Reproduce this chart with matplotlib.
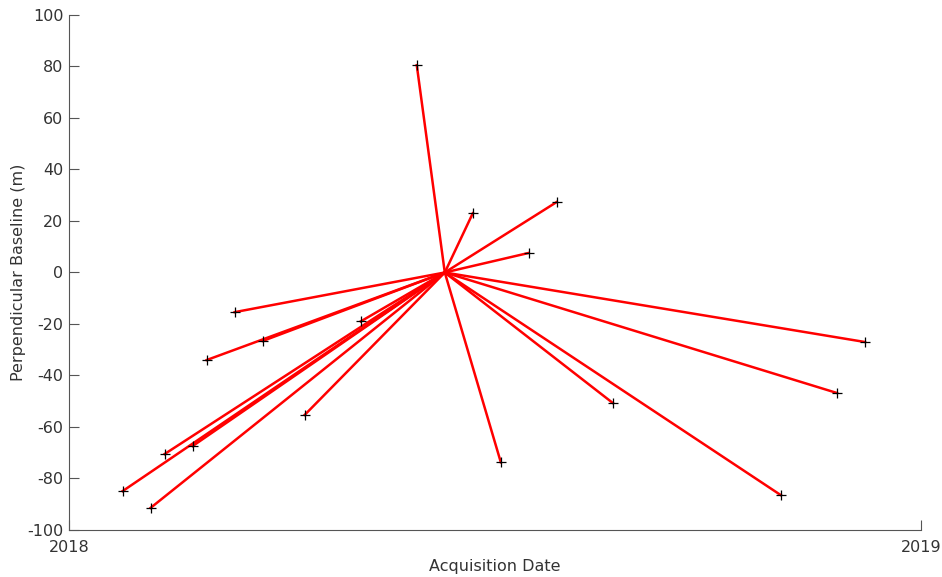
import numpy as np
import matplotlib
matplotlib.use('Agg')
import matplotlib.pyplot as plt
import matplotlib.dates as mdates

plt.rcParams['axes.unicode_minus'] = False

# master (reference) acquisition and secondary acquisitions
master_date = np.datetime64('2018-06-11')
master_bperp = 0.0

slave_dates = np.array([
    '2018-05-30', '2018-06-23', '2018-07-29', '2018-07-17', '2018-03-13',
    '2018-03-25', '2018-03-01', '2018-05-06', '2018-04-12', '2018-02-11',
    '2018-02-23', '2018-01-24', '2018-02-05', '2018-07-05', '2018-08-22',
    '2018-11-02', '2018-11-26', '2018-12-08'], dtype='datetime64[D]')
slave_bperp = [80.5, 23.0, 27.4, 7.6, -15.4, -26.6, -34.0, -19.0, -55.3, -70.5,
               -67.4, -84.9, -91.4, -73.7, -50.7, -86.5, -46.8, -27.0]

fig = plt.figure(figsize=(9.42, 5.77), dpi=100)
ax = fig.add_axes([0.0732, 0.0815, 0.9045, 0.8925])

gray = '#333333'
for d, b in zip(slave_dates, slave_bperp):
    ax.plot([master_date, d], [master_bperp, b], color='red', linewidth=1.8)
ax.plot(slave_dates, slave_bperp, '+', color='black', markersize=7, markeredgewidth=0.9)

ax.set_xlim(np.datetime64('2018-01-01'), np.datetime64('2019-01-01'))
ax.set_ylim(-100, 100)
ax.set_xticks([np.datetime64('2018-01-01'), np.datetime64('2019-01-01')])
ax.xaxis.set_major_formatter(mdates.DateFormatter('%Y'))
ax.set_yticks(np.arange(-100, 101, 20))

ax.spines['top'].set_visible(False)
ax.spines['right'].set_visible(False)
for s in ['left', 'bottom']:
    ax.spines[s].set_color('#555555')
    ax.spines[s].set_linewidth(0.8)
ax.tick_params(direction='in', length=7, width=0.8, color='#555555',
               labelsize=11.5, labelcolor=gray)
ax.tick_params(axis='x', pad=7)
ax.tick_params(axis='y', pad=4)

ax.set_xlabel('Acquisition Date', fontsize=11.5, color=gray, labelpad=3)
ax.set_ylabel('Perpendicular Baseline (m)', fontsize=11.5, color=gray, labelpad=1)

fig.savefig('out.png', dpi=100)
